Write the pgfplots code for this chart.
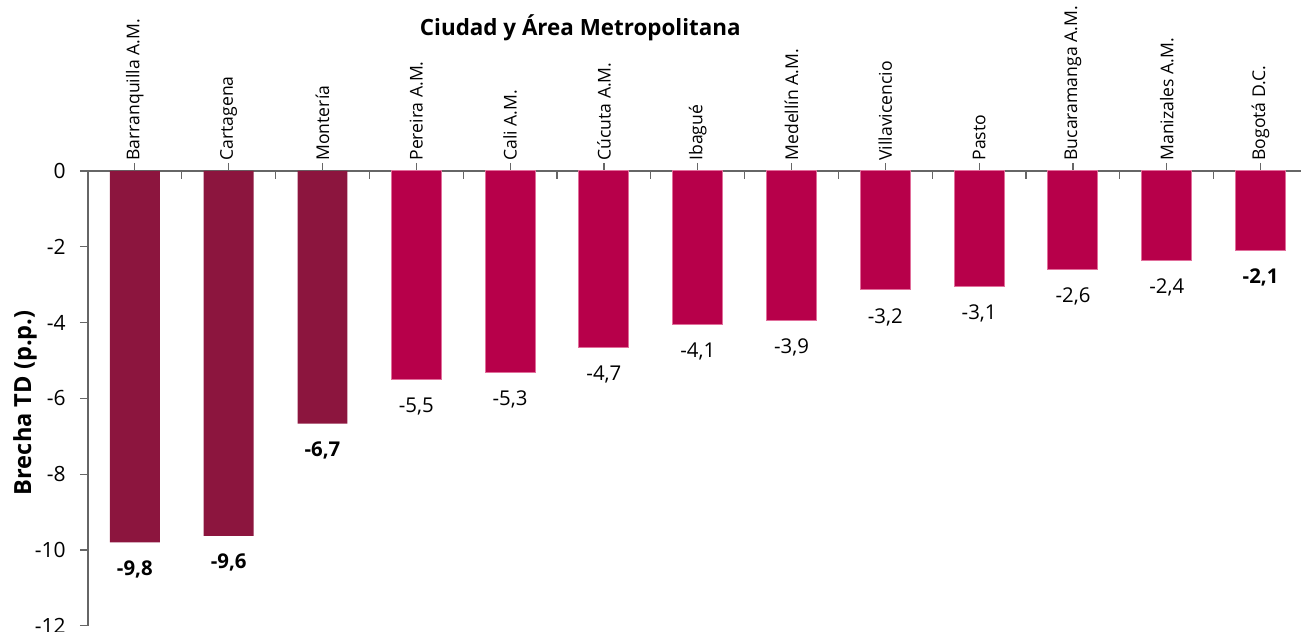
\documentclass[border=0pt]{standalone}
\usepackage{pgfplots}
\pgfplotsset{compat=1.18}
\usepackage{fontspec}
\setmainfont{Open Sans}
\definecolor{darkred}{RGB}{140,21,62}
\definecolor{crimson}{RGB}{183,0,74}
\definecolor{crimsonedge}{RGB}{225,110,155}
\begin{document}
\begin{tikzpicture}
\begin{axis}[
  at={(0,0)}, anchor=south west,
  scale only axis,
  width=610pt, height=227.5pt,
  xmin=-0.5, xmax=12.5,
  ymin=-12, ymax=0,
  axis x line*=top, axis y line*=left,
  axis line style={-, draw=gray!80!black, line width=0.6pt},
  tick style={draw=gray!80!black, line width=0.6pt},
  tick align=outside,
  major tick length=4pt,
  xtick={0,...,12},
  xticklabels={Barranquilla A.M.,Cartagena,Montería,Pereira A.M.,Cali A.M.,Cúcuta A.M.,Ibagué,Medellín A.M.,Villavicencio,Pasto,Bucaramanga A.M.,Manizales A.M.,Bogotá D.C.},
  xticklabel pos=right,
  xticklabel style={rotate=90, anchor=west, font=\fontsize{8.8}{11}\selectfont, inner sep=1pt},
  extra x ticks={0.5,1.5,...,11.5},
  extra x tick labels={},
  extra x tick style={tick align=inside},
  ytick={-12,-10,-8,-6,-4,-2,0},
  yticklabels={-12,-10,-8,-6,-4,-2,0},
  yticklabel style={font=\fontsize{10.5}{12}\selectfont, inner sep=1pt, xshift=-6pt},
  ybar,
  bar width=25pt,
  point meta=explicit symbolic,
  nodes near coords,
  every node near coord/.append style={anchor=center, yshift=-13.5pt, font=\fontsize{10.2}{12}\selectfont},
  clip=false,
]
\addplot[fill=darkred, draw=none, bar shift=0pt,
  every node near coord/.append style={font=\fontsize{10.2}{12}\selectfont\bfseries}]
  table[meta=lab] {
x y lab
0 -9.80 -9,8
1 -9.63 -9,6
2 -6.67 -6,7
};
\addplot[fill=crimson, draw=crimsonedge, line width=0.5pt, bar shift=0pt]
  table[meta=lab] {
x y lab
3 -5.51 -5,5
4 -5.32 -5,3
5 -4.65 -4,7
6 -4.05 -4,1
7 -3.94 -3,9
8 -3.14 -3,2
9 -3.04 -3,1
10 -2.61 -2,6
11 -2.36 -2,4
};
\addplot[fill=crimson, draw=crimsonedge, line width=0.5pt, bar shift=0pt,
  every node near coord/.append style={font=\fontsize{10.2}{12}\selectfont\bfseries}]
  table[meta=lab] {
x y lab
12 -2.09 -2,1
};
\end{axis}
\node[font=\fontsize{11.2}{13}\selectfont\bfseries] at (246.25pt,299pt) {Ciudad y Área Metropolitana};
\node[rotate=90, font=\fontsize{11.8}{13}\selectfont\bfseries] at (-31.5pt,111.5pt) {Brecha TD (p.p.)};
\pgfresetboundingbox
\path[use as bounding box] (-44pt,-3pt) rectangle (606.75pt,313pt);
\end{tikzpicture}
\end{document}
